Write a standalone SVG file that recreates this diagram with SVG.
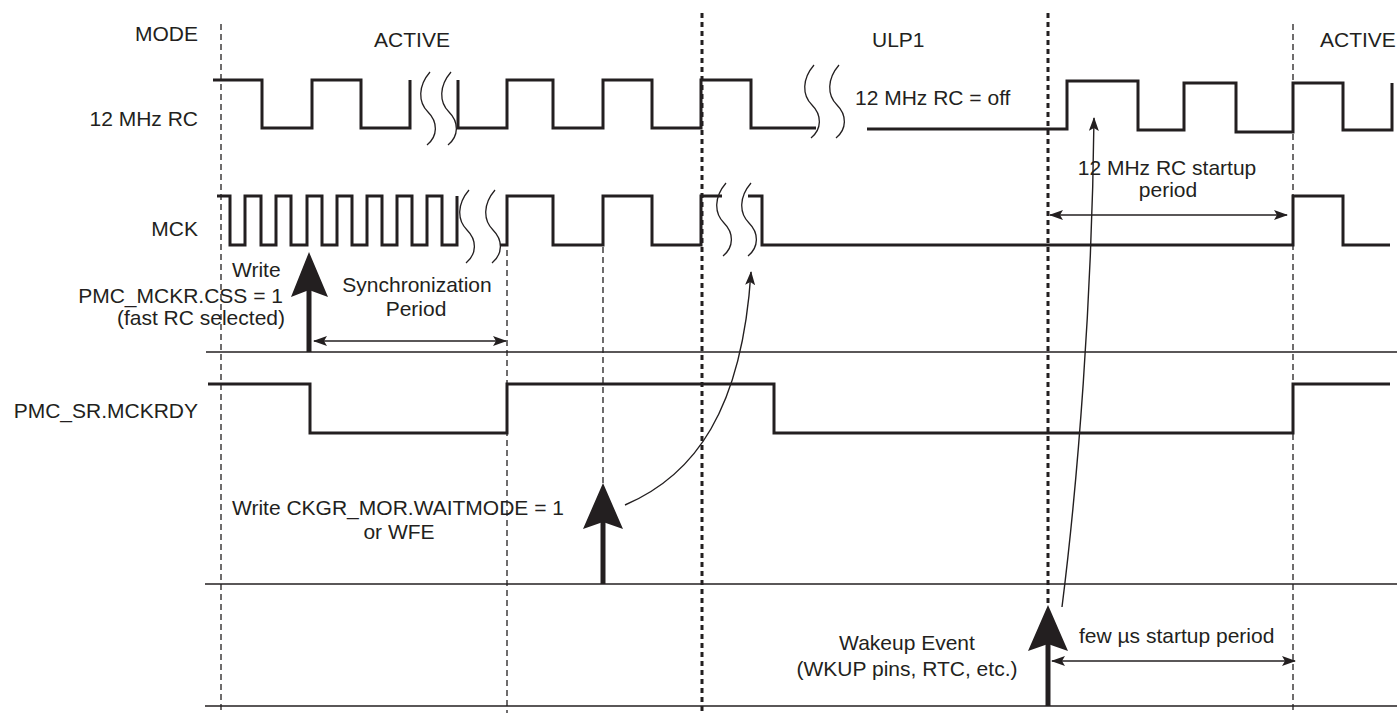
<svg xmlns="http://www.w3.org/2000/svg" xmlns:xlink="http://www.w3.org/1999/xlink" width="1397" height="713" viewBox="0 0 1397 713">
<style>
  .wave{fill:none;stroke:#231f20;stroke-width:3;stroke-linejoin:miter}
  .sep{fill:none;stroke:#231f20;stroke-width:1.6}
  .dash{fill:none;stroke:#231f20;stroke-width:1.3;stroke-dasharray:6 4}
  .dot{fill:none;stroke:#231f20;stroke-width:3;stroke-dasharray:5 4}
  .brk{fill:none;stroke:#231f20;stroke-width:1.3}
  .thin{fill:none;stroke:#231f20;stroke-width:1.4}
  .shaft{fill:none;stroke:#231f20;stroke-width:5}
  .head{fill:#231f20}
  text{font-family:"Liberation Sans",Arial,sans-serif;font-size:21px;fill:#231f20}
</style>
<defs>
  <path id="brk" class="brk" d="M0,0 C-12,14 -12,30 -2,40 C8,50 8,64 -3,73"/>
  <marker id="ah" viewBox="0 0 14 10" refX="13" refY="5" markerWidth="14" markerHeight="10" markerUnits="userSpaceOnUse" orient="auto-start-reverse">
    <path d="M0,0 L14,5 L0,10 L3,5 Z" fill="#231f20"/>
  </marker>
</defs>

<g id="gridlines">
  <line class="sep" x1="206" y1="352" x2="1397" y2="352"/>
  <line class="sep" x1="205" y1="584" x2="1397" y2="584"/>
  <line class="sep" x1="205" y1="706" x2="1397" y2="706"/>
  <line class="dash" x1="221" y1="24" x2="221" y2="713"/>
  <line class="dash" x1="507" y1="220" x2="507" y2="713"/>
  <line class="dash" x1="603" y1="247" x2="603" y2="483"/>
  <line class="dash" x1="1293" y1="24" x2="1293" y2="713"/>
  <line class="dot" x1="702" y1="13" x2="702" y2="713"/>
  <line class="dot" x1="1048" y1="13" x2="1048" y2="605"/>
</g>

<g id="labels">
  <text x="198" y="41" text-anchor="end">MODE</text>
  <text x="198" y="126" text-anchor="end">12 MHz RC</text>
  <text x="198" y="236" text-anchor="end">MCK</text>
  <text x="198" y="418" text-anchor="end">PMC_SR.MCKRDY</text>
  <text x="412" y="47" text-anchor="middle">ACTIVE</text>
  <text x="872" y="47">ULP1</text>
  <text x="1320" y="47">ACTIVE</text>
</g>

<g id="rc12">
  <path class="wave" d="M213,80 H262 V128 H312 V80 H361 V128 H410 V80"/>
  <path class="wave" d="M458,80 V128 H507 V80 H553 V128 H603 V80 H652 V128 H701 V80 H751 V128 H816"/>
  <path class="wave" d="M867,129 H1067 V81 H1138 V130 H1184 V83 H1236 V132 H1293 V83 H1343 V130 H1392 V83"/>
  <use xlink:href="#brk" x="430" y="72"/>
  <use xlink:href="#brk" x="451" y="72"/>
  <use xlink:href="#brk" x="814" y="65"/>
  <use xlink:href="#brk" x="839" y="65"/>
  <text x="855" y="105">12 MHz RC = off</text>
</g>

<g id="mck">
  <path class="wave" d="M217,196 H230 V245 H245 V196 H261 V245 H276 V196 H291 V245 H307 V196 H322 V245 H337 V196 H352 V245 H367 V196 H382 V245 H397 V196 H412 V245 H427 V196 H442 V245 H457 V196"/>
  <path class="wave" d="M500,245 H507 V196 H553 V245 H603 V196 H652 V245 H701 V196 H722"/>
  <path class="wave" d="M748,196 H762 V245 H1293 V196 H1343 V245 H1390"/>
  <use xlink:href="#brk" x="469" y="190"/>
  <use xlink:href="#brk" x="495" y="190"/>
  <use xlink:href="#brk" x="726" y="183"/>
  <use xlink:href="#brk" x="751" y="183"/>
</g>

<g id="mckrdy">
  <path class="wave" d="M208,384 H310 V433 H507 V384 H774 V433 H1293 V384 H1390"/>
</g>

<g id="write-css">
  <line class="shaft" x1="309" y1="352" x2="309" y2="288"/>
  <path class="head" d="M309,252 L328,297 L309,290 L291,297 Z"/>
  <text x="232" y="277">Write</text>
  <text x="283" y="303" text-anchor="end">PMC_MCKR.CSS = 1</text>
  <text x="285" y="325" text-anchor="end">(fast RC selected)</text>
</g>

<g id="sync">
  <text x="417" y="292" text-anchor="middle">Synchronization</text>
  <text x="416" y="316" text-anchor="middle">Period</text>
</g>

<g id="write-wait">
  <line class="shaft" x1="603" y1="584" x2="603" y2="520"/>
  <path class="head" d="M603,483 L623,529 L603,522 L583,529 Z"/>
  <text x="232" y="515">Write CKGR_MOR.WAITMODE = 1</text>
  <text x="399" y="539" text-anchor="middle">or WFE</text>
</g>

<g id="wakeup">
  <line class="shaft" x1="1048" y1="706" x2="1048" y2="642"/>
  <path class="head" d="M1048,605 L1068,651 L1048,644 L1028,651 Z"/>
  <text x="907" y="650" text-anchor="middle">Wakeup Event</text>
  <text x="907" y="676" text-anchor="middle">(WKUP pins, RTC, etc.)</text>
</g>

<g id="startup">
  <text x="1167" y="175" text-anchor="middle">12 MHz RC startup</text>
  <text x="1168" y="197" text-anchor="middle">period</text>
  <text x="1079" y="643">few µs startup period</text>
</g>

<g id="connectors">
  <line class="thin" x1="314" y1="341" x2="506" y2="341" marker-start="url(#ah)" marker-end="url(#ah)"/>
  <line class="thin" x1="1050" y1="215" x2="1287" y2="215" marker-start="url(#ah)" marker-end="url(#ah)"/>
  <line class="thin" x1="1052" y1="661" x2="1295" y2="661" marker-start="url(#ah)" marker-end="url(#ah)"/>
  <path class="thin" d="M625,505 C695,475 742,410 751,272" marker-end="url(#ah)"/>
  <path class="thin" d="M1062,607 C1078,480 1092,300 1094,118" marker-end="url(#ah)"/>
</g>
</svg>
